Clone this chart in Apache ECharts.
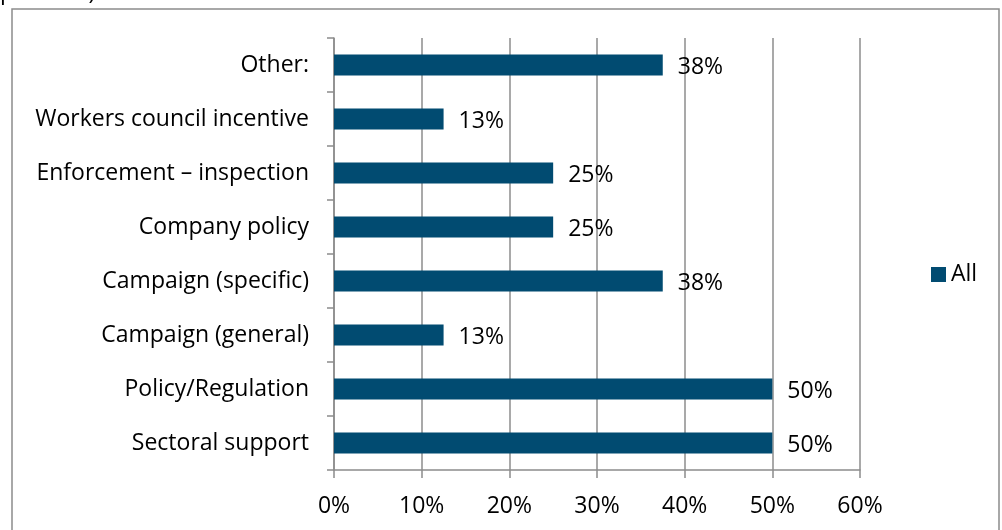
<!DOCTYPE html>
<html>
<head>
<meta charset="utf-8">
<script src="https://cdn.jsdelivr.net/npm/echarts@6/dist/echarts.min.js"></script>
<style>
  html, body { margin: 0; padding: 0; background: #fff; }
  #chart { width: 1002px; height: 530px; }
</style>
</head>
<body>
<div id="chart"></div>
<script>
// Categories listed bottom-to-top (category axis starts at the bottom)
const categories = [
  'Sectoral support',
  'Policy/Regulation',
  'Campaign (general)',
  'Campaign (specific)',
  'Company policy',
  'Enforcement \u2013 inspection',
  'Workers council incentive',
  'Other:'
];
// Share of respondents, percent
const allValues = [50, 50, 12.5, 37.5, 25, 25, 12.5, 37.5];
const xTicks = [0, 10, 20, 30, 40, 50, 60];
const seriesName = 'All';

const FONT = '"Open Sans", Lato, sans-serif';
const FS = 23;
const chart = echarts.init(document.getElementById('chart'), null, { renderer: 'canvas' });

chart.setOption({
  animation: false,
  backgroundColor: '#fff',
  textStyle: { fontFamily: FONT },
  graphic: [
    {
      type: 'text',
      left: 0,
      top: -19,
      style: { text: 'possible).', font: FS + 'px ' + FONT, fill: '#000' }
    },
    {
      type: 'rect',
      shape: { x: 12, y: 9, width: 987, height: 540 },
      style: { fill: 'none', stroke: '#8c8c8c', lineWidth: 1.5 },
      z: 0
    }
  ],
  legend: {
    orient: 'vertical',
    left: 926,
    top: 258,
    itemWidth: 15,
    itemHeight: 15,
    itemGap: 6,
    textStyle: { fontSize: FS, color: '#000', fontFamily: FONT },
    data: [{ name: seriesName, icon: 'rect' }]
  },
  grid: { left: 334, right: 142, top: 38, bottom: 60, containLabel: false },
  xAxis: {
    type: 'value',
    min: xTicks[0],
    max: xTicks[xTicks.length - 1],
    interval: 10,
    axisLine: { show: true, lineStyle: { color: '#8c8c8c', width: 1.5 } },
    axisTick: { show: true, length: 8, lineStyle: { color: '#8c8c8c', width: 1.5 } },
    splitLine: { show: true, lineStyle: { color: '#8c8c8c', width: 1.5 } },
    axisLabel: {
      margin: 25,
      fontSize: FS,
      color: '#000',
      fontFamily: FONT,
      formatter: v => v + '%'
    }
  },
  yAxis: {
    type: 'category',
    data: categories,
    axisLine: { show: true, lineStyle: { color: '#8c8c8c', width: 1.5 } },
    axisTick: { show: true, length: 7, alignWithLabel: false, lineStyle: { color: '#8c8c8c', width: 1.5 } },
    axisLabel: { margin: 25, fontSize: FS, color: '#000', fontFamily: FONT, padding: [4, 0, 0, 0] }
  },
  series: [
    {
      name: seriesName,
      type: 'bar',
      data: allValues,
      barWidth: 21,
      itemStyle: { color: '#014B71' },
      label: {
        show: true,
        position: 'right',
        distance: 15,
        offset: [0, 2],
        fontSize: FS,
        color: '#000',
        fontFamily: FONT,
        formatter: p => Math.round(p.value) + '%'
      }
    }
  ]
});
</script>
</body>
</html>
